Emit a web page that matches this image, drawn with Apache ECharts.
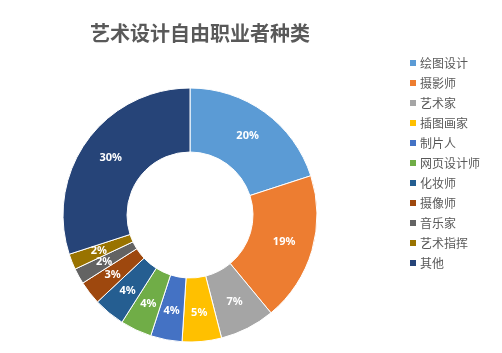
<!DOCTYPE html>
<html>
<head>
<meta charset="utf-8">
<script src="https://cdn.jsdelivr.net/npm/echarts@6/dist/echarts.min.js"></script>
<style>
  html, body { margin: 0; padding: 0; background: #fff; }
  #main { width: 502px; height: 353px; }
</style>
</head>
<body>
<div id="main"></div>
<script>
  var names = ['绘图设计', '摄影师', '艺术家', '插图画家', '制片人', '网页设计师', '化妆师', '摄像师', '音乐家', '艺术指挥', '其他'];
  var values = [20, 19, 7, 5, 4, 4, 4, 3, 2, 2, 30];
  var colors = ['#5B9BD5', '#ED7D31', '#A5A5A5', '#FFC000', '#4472C4', '#70AD47', '#255E91', '#9E480E', '#636363', '#997300', '#264478'];

  var myChart = echarts.init(document.getElementById('main'));
  var data = [];
  for (var i = 0; i < names.length; i++) {
    data.push({ name: names[i], value: values[i] });
  }

  var option = {
    backgroundColor: '#fff',
    color: colors,
    title: {
      text: '艺术设计自由职业者种类',
      left: 195,
      top: 18,
      textAlign: 'center',
      textStyle: { fontSize: 20, fontWeight: 'bold', color: '#595959', fontFamily: 'Noto Sans CJK SC' }
    },
    legend: {
      orient: 'vertical',
      left: 403,
      top: 52,
      itemWidth: 8,
      itemHeight: 8,
      itemGap: 8,
      icon: 'rect',
      textStyle: { fontSize: 12, color: '#595959', fontFamily: 'Noto Sans CJK SC', padding: [0, 0, 0, -2] },
      data: names
    },
    series: [
      {
        type: 'pie',
        center: [190, 215],
        radius: [63, 127],
        startAngle: 90,
        clockwise: true,
        avoidLabelOverlap: false,
        itemStyle: { borderColor: '#fff', borderWidth: 1 },
        label: {
          position: 'inside',
          formatter: '{c}%',
          color: '#fff',
          fontSize: 11,
          fontWeight: 'bold',
          fontFamily: 'Noto Sans'
        },
        labelLine: { show: false },
        data: data
      }
    ]
  };
  myChart.setOption(option);
</script>
</body>
</html>
